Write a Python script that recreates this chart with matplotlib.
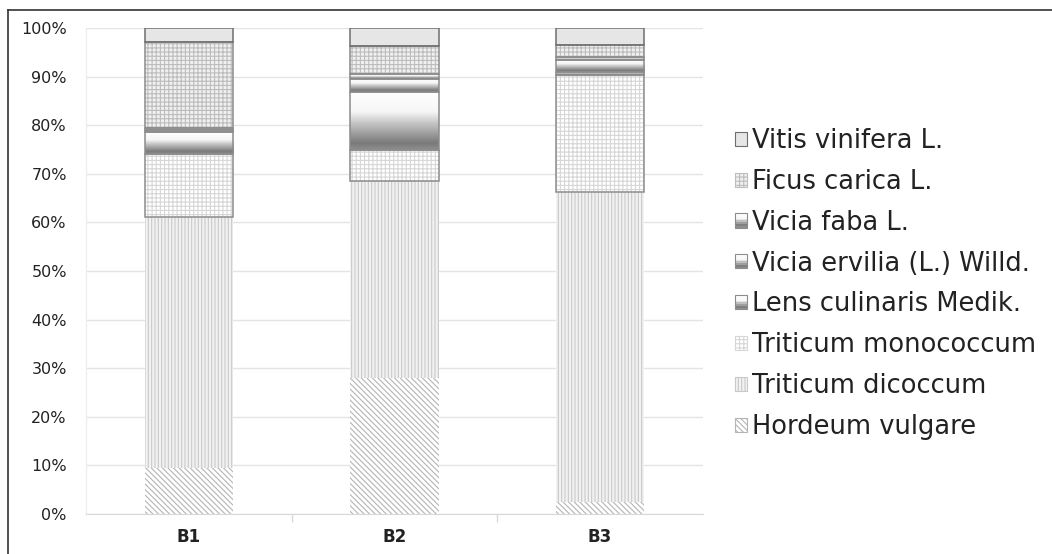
import numpy as np
import matplotlib
matplotlib.use("Agg")
import matplotlib.pyplot as plt
from matplotlib.patches import Rectangle
from matplotlib.lines import Line2D
from matplotlib.colors import LinearSegmentedColormap
from matplotlib.legend_handler import HandlerBase

# Share of each taxon per sample (percent)
categories = ["B1", "B2", "B3"]
hordeum = [9.5, 28.0, 2.5]
dicoccum = [51.7, 40.6, 63.8]
monococcum = [12.9, 6.3, 24.0]
lens = [4.5, 12.0, 0.7]
ervilia = [0.4, 2.7, 2.5]
faba = [0.4, 0.9, 0.5]
ficus = [17.8, 5.8, 2.6]
vitis = [2.8, 3.7, 3.4]

labels = ["Hordeum vulgare", "Triticum dicoccum", "Triticum monococcum",
          "Lens culinaris Medik.", "Vicia ervilia (L.) Willd.", "Vicia faba L.",
          "Ficus carica L.", "Vitis vinifera L."]
series = [hordeum, dicoccum, monococcum, lens, ervilia, faba, ficus, vitis]

plt.rcParams["hatch.linewidth"] = 0.8
plt.rcParams["font.family"] = ["DejaVu Sans"]

fig = plt.figure(figsize=(10.52, 5.54), dpi=100)
ax = fig.add_axes([0.082, 0.0722, 0.586, 0.8773])

x = np.arange(len(categories))
width = 0.43

# fill style per series: (facecolor, hatch, hatch colour, outline colour, gradient)
styles = [
    ("white", "\\\\\\\\\\\\", "#b4b4b4", None, False),
    ("#f2f2f2", "|||||", "#c9c9c9", None, False),
    ("white", "++++", "#d6d6d6", "#8c8c8c", False),
    ("white", None, None, "#8c8c8c", True),
    ("white", None, None, "#8c8c8c", True),
    ("white", None, None, "#8c8c8c", True),
    ("#f0f0f0", "++++", "#bdbdbd", "#8c8c8c", False),
    ("#e6e6e6", None, None, "#6e6e6e", False),
]

grad_cmap = LinearSegmentedColormap.from_list(
    "shade", [(0.0, "#8e8e8e"), (0.12, "#7a7a7a"), (0.45, "#c4c4c4"),
              (0.65, "#f6f6f6"), (1.0, "#ffffff")])
grad = np.linspace(0, 1, 256).reshape(-1, 1)

bottom = np.zeros(len(categories))
for vals, (fc, hatch, hc, ec, is_grad) in zip(series, styles):
    vals = np.array(vals) / 100.0
    if is_grad:
        bars = ax.bar(x, vals, width, bottom=bottom, color="white",
                      linewidth=0, zorder=2)
        for b in bars:
            x0, y0 = b.get_x(), b.get_y()
            w, h = b.get_width(), b.get_height()
            im = ax.imshow(grad, cmap=grad_cmap, origin="lower", aspect="auto",
                           extent=(x0, x0 + w, y0, y0 + h), zorder=2.1,
                           interpolation="bilinear")
            im.set_clip_path(b)
    else:
        ax.bar(x, vals, width, bottom=bottom, color=fc, hatch=hatch,
               edgecolor=hc if hatch else fc, linewidth=0, zorder=2)
    if ec is not None:
        ax.bar(x, vals, width, bottom=bottom, fill=False, edgecolor=ec,
               linewidth=1.1, zorder=3)
    bottom += vals

ax.set_xlim(-0.5, len(categories) - 0.5)
ax.set_ylim(0, 1)
ax.set_yticks(np.linspace(0, 1, 11))
ax.set_yticklabels([f"{int(v)}%" for v in np.arange(0, 101, 10)],
                   fontsize=11.5, color="#222222")
ax.tick_params(axis="y", length=0, pad=14)
ax.set_xticks(x)
ax.set_xticklabels(categories, fontsize=12, fontweight="bold", color="#222222")
ax.tick_params(axis="x", length=0, pad=10)
ax.set_xticks([0.5, 1.5], minor=True)
ax.tick_params(axis="x", which="minor", length=6, color="#d8d8d8", width=1)

ax.yaxis.grid(True, color="#e4e4e4", linewidth=1)
ax.set_axisbelow(True)
for s in ["top", "right"]:
    ax.spines[s].set_visible(False)
ax.spines["left"].set_color("#ececec")
ax.spines["bottom"].set_color("#d8d8d8")


class GradientHandler(HandlerBase):
    def create_artists(self, legend, orig_handle, xdescent, ydescent,
                       width, height, fontsize, trans):
        arts = []
        n = 8
        for i in range(n):
            c = grad_cmap(i / (n - 1))
            arts.append(Rectangle((-xdescent, -ydescent + height * i / n),
                                  width, height / n, facecolor=c,
                                  edgecolor="none", transform=trans))
        arts.append(Rectangle((-xdescent, -ydescent), width, height,
                              fill=False, edgecolor="#8c8c8c", lw=0.8,
                              transform=trans))
        return arts


handles = []
handler_map = {}
for lab, (fc, hatch, hc, ec, is_grad) in zip(labels, styles):
    if is_grad:
        h = Rectangle((0, 0), 1, 1, label=lab)
        handler_map[h] = GradientHandler()
    else:
        h = Rectangle((0, 0), 1, 1, facecolor=fc, hatch=hatch,
                      edgecolor=(hc if hatch else (ec or fc)), lw=0.8, label=lab)
    handles.append(h)

leg = fig.legend(handles[::-1], labels[::-1], handler_map=handler_map,
                 loc="center left", bbox_to_anchor=(0.6768, 0.4874),
                 frameon=False, fontsize=18.5, handlelength=0.47,
                 handleheight=0.47, handletextpad=0.2, labelspacing=0.58)
for t in leg.get_texts():
    t.set_color("#222222")

# border lines at the left and top of the figure
fig.add_artist(Line2D([0.0076, 0.0076], [0, 0.982], transform=fig.transFigure,
                      color="#333333", lw=1.2))
fig.add_artist(Line2D([0.0076, 1.0], [0.982, 0.982], transform=fig.transFigure,
                      color="#333333", lw=1.2))

fig.savefig("out.png", dpi=100)
